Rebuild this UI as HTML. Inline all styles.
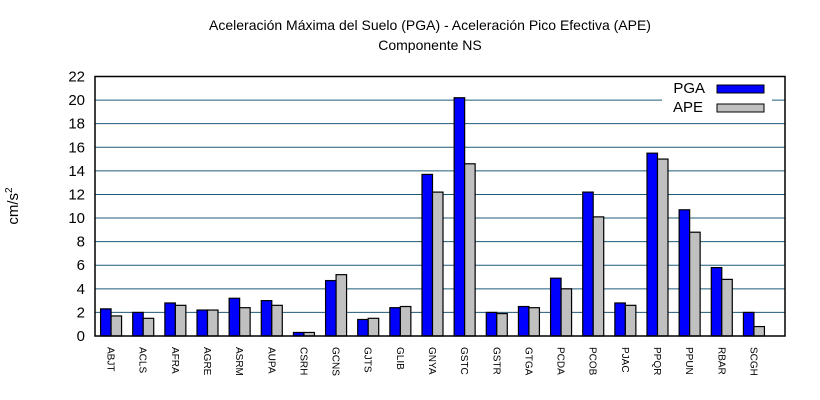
<!DOCTYPE html>
<html><head><meta charset="utf-8"><style>
body{margin:0;background:#fff;}
svg{display:block;font-family:"Liberation Sans",sans-serif;}
</style></head><body>
<svg id="c" width="820" height="400">
<text x="430" y="30" font-size="14" text-anchor="middle">Aceleración Máxima del Suelo (PGA) -  Aceleración Pico Efectiva (APE)</text>
<text x="430" y="50" font-size="14" text-anchor="middle">Componente NS</text>
<text transform="translate(18,206) rotate(-90)" font-size="15" text-anchor="middle">cm/s<tspan font-size="10" dy="-6">2</tspan></text>
<g id="grid"></g><g id="bars"></g><g id="ticks"></g>
<rect x="662" y="80" width="110" height="38" fill="#fff"/>
<text x="705" y="93" font-size="15" text-anchor="end">PGA</text>
<rect x="717" y="85" width="47" height="8" fill="#0000ff" stroke="#000"/>
<text x="703" y="112" font-size="15" text-anchor="end">APE</text>
<rect x="717" y="104" width="47" height="8" fill="#c0c0c0" stroke="#000"/>
<rect x="95" y="76.5" width="690" height="259.5" fill="none" stroke="#000" stroke-width="1.5"/>
</svg>
<script>
const categories=["ABJT","ACLS","AFRA","AGRE","ASRM","AUPA","CSRH","GCNS","GJTS","GLIB","GNYA","GSTC","GSTR","GTGA","PCDA","PCOB","PJAC","PPQR","PPUN","RBAR","SCGH"];
const pga=[2.3,2.0,2.8,2.2,3.2,3.0,0.3,4.7,1.4,2.4,13.7,20.2,2.0,2.5,4.9,12.2,2.8,15.5,10.7,5.8,2.0];
const ape=[1.7,1.5,2.6,2.2,2.4,2.6,0.3,5.2,1.5,2.5,12.2,14.6,1.9,2.4,4.0,10.1,2.6,15.0,8.8,4.8,0.8];
const yTicks=[0,2,4,6,8,10,12,14,16,18,20,22];
const NS="http://www.w3.org/2000/svg";
const L=95,R=785,T=76.5,B=336,YMAX=22,XR=770;
const y=v=>B-(v/YMAX)*(B-T);
const bw=(XR-L)/categories.length;
const x=i=>L+bw*(i+0.5);
function mk(t,a,p){const e=document.createElementNS(NS,t);for(const k in a)e.setAttribute(k,a[k]);p.appendChild(e);return e;}
const grid=document.getElementById('grid'),bars=document.getElementById('bars'),ticks=document.getElementById('ticks');
yTicks.forEach(v=>{
  if(v>0&&v<YMAX){const g=mk('line',{x1:L,x2:R,y1:y(v),y2:y(v),stroke:'#1f5a7a','stroke-width':1},grid);
  
  }
  const t=mk('text',{x:L-10,y:y(v)+5,'font-size':15,'text-anchor':'end'},ticks);t.textContent=v;
  
  
});
categories.forEach((c,i)=>{
  const cx=x(i),w=10.5;
  const b1=mk('rect',{x:cx-w,y:y(pga[i]),width:w,height:B-y(pga[i]),fill:'#0000ff',stroke:'#000','stroke-width':1.2},bars);
  
  
  const b2=mk('rect',{x:cx,y:y(ape[i]),width:w,height:B-y(ape[i]),fill:'#c0c0c0',stroke:'#000','stroke-width':1.2},bars);
  
  
  const t=mk('text',{transform:`translate(${cx-3.5},347) rotate(90)`,'font-size':10},ticks);t.textContent=c;
  
  
});
</script>
</body></html>
